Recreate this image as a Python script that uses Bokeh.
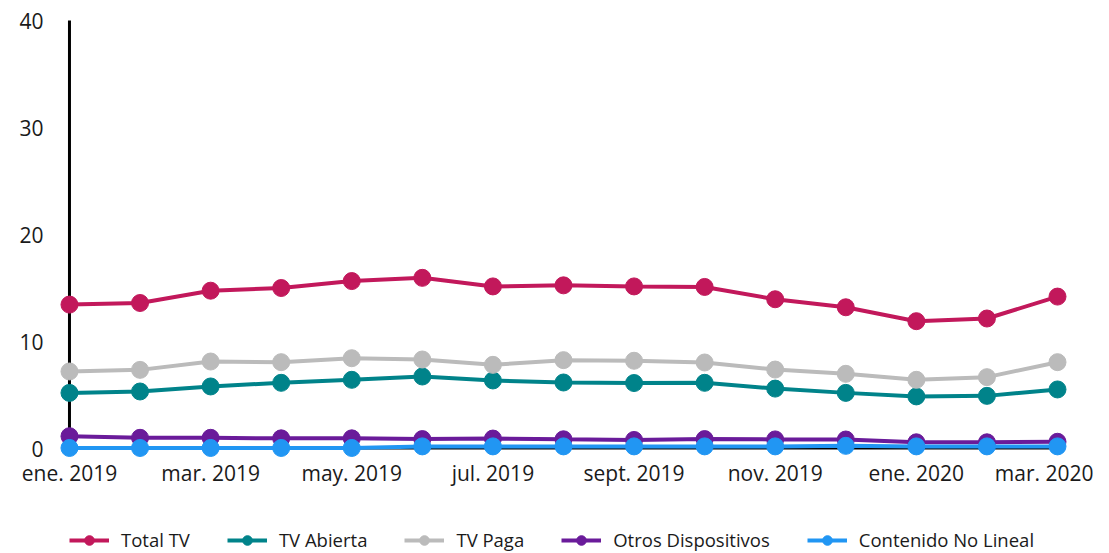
from bokeh.plotting import figure
from bokeh.layouts import column
from bokeh.models import FixedTicker, Range1d, Legend, LegendItem
from bokeh.embed import file_html
from bokeh.resources import INLINE

months = ["ene. 2019", "feb. 2019", "mar. 2019", "abr. 2019", "may. 2019", "jun. 2019",
          "jul. 2019", "ago. 2019", "sept. 2019", "oct. 2019", "nov. 2019", "dic. 2019",
          "ene. 2020", "feb. 2020", "mar. 2020"]
total_tv = [13.45, 13.6, 14.75, 15.0, 15.65, 15.95, 15.15, 15.25, 15.15, 15.1, 13.95, 13.2, 11.9, 12.15, 14.2]
tv_abierta = [5.2, 5.33, 5.8, 6.14, 6.42, 6.73, 6.36, 6.17, 6.12, 6.14, 5.6, 5.2, 4.87, 4.92, 5.52]
tv_paga = [7.2, 7.35, 8.13, 8.07, 8.44, 8.32, 7.82, 8.26, 8.2, 8.04, 7.38, 6.98, 6.42, 6.67, 8.07]
otros = [1.15, 1.0, 1.0, 0.95, 0.95, 0.88, 0.93, 0.86, 0.8, 0.88, 0.85, 0.84, 0.58, 0.58, 0.63]
no_lineal = [0.05, 0.05, 0.05, 0.05, 0.05, 0.2, 0.2, 0.2, 0.2, 0.2, 0.2, 0.25, 0.2, 0.2, 0.2]
y_ticks = [0, 10, 20, 30, 40]

series = [
    ("Total TV", total_tv, "#C2185B"),
    ("TV Abierta", tv_abierta, "#00838A"),
    ("TV Paga", tv_paga, "#BBBBBB"),
    ("Otros Dispositivos", otros, "#6A1B9A"),
    ("Contenido No Lineal", no_lineal, "#2196F3"),
]

x = list(range(len(months)))

p = figure(width=1093, height=500, output_backend="svg", toolbar_location=None,
           x_range=Range1d(-0.198, 14.326), y_range=Range1d(-1.12, 40.75),
           min_border_left=55, min_border_right=13, min_border_top=12, min_border_bottom=40)
p.outline_line_color = None
p.xgrid.visible = False
p.ygrid.visible = False

# axis lines
p.segment(x0=[0], y0=[0], x1=[0], y1=[y_ticks[-1]], line_color="black", line_width=3)
p.segment(x0=[0], y0=[0], x1=[x[-1]], y1=[0], line_color="black", line_width=2)

# legend holder figure (its ranges keep the copies of the series out of view)
lg = figure(width=1093, height=53, output_backend="svg", toolbar_location=None,
            x_axis_type=None, y_axis_type=None, x_range=Range1d(100, 101), y_range=Range1d(100, 101),
            min_border_left=0, min_border_right=0, min_border_top=0, min_border_bottom=0)
lg.outline_line_color = None
lg.xgrid.visible = False
lg.ygrid.visible = False

items = []
for name, vals, col in series:
    p.line(x, vals, line_color=col, line_width=4)
    p.scatter(x, vals, size=17, fill_color=col, line_color=col)
    l2 = lg.line(x, vals, line_color=col, line_width=4)
    s2 = lg.scatter(x, vals, size=17, fill_color=col, line_color=col)
    items.append(LegendItem(label=name, renderers=[l2, s2]))

p.yaxis.ticker = FixedTicker(ticks=y_ticks)
p.yaxis.axis_line_color = None
p.yaxis.major_tick_line_color = None
p.yaxis.minor_tick_line_color = None
p.yaxis.major_label_text_font = "Open Sans"
p.yaxis.major_label_text_font_size = "21px"
p.yaxis.major_label_text_color = "#1a1a1a"
p.yaxis.major_label_standoff = 6

p.xaxis.ticker = FixedTicker(ticks=x[::2])
p.xaxis.major_label_overrides = {i: months[i] for i in x[::2]}
p.xaxis.axis_line_color = None
p.xaxis.major_tick_line_color = None
p.xaxis.minor_tick_line_color = None
p.xaxis.major_label_text_font = "Open Sans"
p.xaxis.major_label_text_font_size = "21px"
p.xaxis.major_label_text_color = "#1a1a1a"
p.xaxis.major_label_standoff = -8

legend = Legend(items=items, orientation="horizontal", location=(14, 1),
                glyph_width=40, glyph_height=24, label_height=24, label_standoff=12, spacing=37,
                padding=0, margin=0, border_line_color=None, background_fill_alpha=0,
                label_text_font="Open Sans", label_text_font_size="18.5px",
                label_text_color="#1a1a1a")
lg.add_layout(legend, "center")

layout = column(p, lg, spacing=0)
open("out.html", "w").write(file_html(layout, INLINE))
